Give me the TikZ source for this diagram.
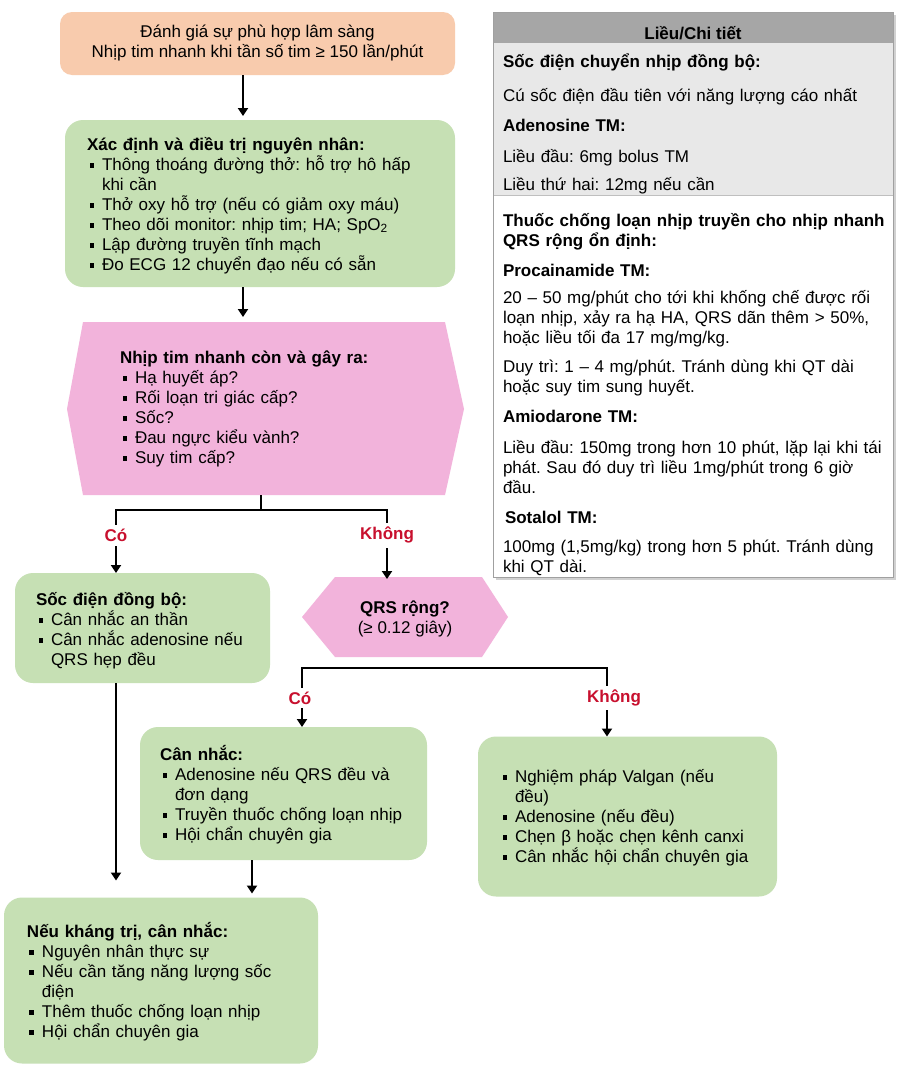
\documentclass[tikz,border=0pt]{standalone}
\usepackage{fontspec}
\setmainfont{Liberation Sans}
\usetikzlibrary{arrows.meta}

\definecolor{peach}{HTML}{F8CBAD}
\definecolor{leaf}{HTML}{C6E0B4}
\definecolor{rose}{HTML}{F2B3DB}
\definecolor{hdr}{HTML}{A6A6A6}
\definecolor{band}{HTML}{E8E8E8}
\definecolor{rim}{HTML}{A0A0A0}
\definecolor{yesno}{HTML}{C8102E}

% square bullet and list line with hanging indent
\newcommand\sqb{\rule[2.5pt]{4.5pt}{4.5pt}}
\newcommand\itm[1]{\noindent\hangindent=15pt\hangafter=1\makebox[15pt][l]{\hspace{2.5pt}\sqb}\strut#1\par}
\newcommand\ttl[1]{\noindent\strut\textbf{#1}\par}

\tikzset{
  x=1pt, y=-1pt,
  every node/.style={inner sep=0pt, outer sep=0pt},
  bodyfont/.style={font=\fontsize{17}{20}\selectfont\frenchspacing},
  box/.style={rectangle, rounded corners=18pt, fill=leaf, draw=none},
  txt/.style={bodyfont, anchor=base west, text width=#1,
    execute at begin node={\raggedright\parskip=0pt\lineskiplimit=-100pt\relax}},
  cell/.style={txt=400pt},
  lbl/.style={font=\fontsize{17}{20}\selectfont\bfseries, text=yesno},
  ln/.style={line width=2.2pt, black},
  arr/.style={ln, -{Triangle[length=8pt,width=10pt]}},
}

\begin{document}
\begin{tikzpicture}
\useasboundingbox (0,0) rectangle (898,1068);
\fill[white] (0,0) rectangle (898,1068);

% ---------------- flowchart boxes ----------------
\node[box, fill=peach, rounded corners=12pt, minimum width=395pt, minimum height=63pt,
      bodyfont, align=center] (top) at (257.5,43.5)
  {Đánh giá sự phù hợp lâm sàng\\Nhịp tim nhanh khi tần số tim ≥ 150 lần/phút};

\node[box, minimum width=390pt, minimum height=167pt] (cause) at (260,203.5) {};
\node[txt=360pt] (causeT) at (87,150)
  {\ttl{Xác định và điều trị nguyên nhân:}%
   \itm{Thông thoáng đường thở: hỗ trợ hô hấp\newline khi cần}%
   \itm{Thở oxy hỗ trợ (nếu có giảm oxy máu)}%
   \itm{Theo dõi monitor: nhịp tim; HA; SpO\textsubscript{2}}%
   \itm{Lập đường truyền tĩnh mạch}%
   \itm{Đo ECG 12 chuyển đạo nếu có sẵn}};

% unstable-signs decision hexagon
\fill[rose] (83,322) -- (445,322) -- (464,409) -- (445,495) -- (83,495) -- (67,409) -- cycle;
\node[minimum width=397pt, minimum height=173pt] (risk) at (265.5,408.5) {};
\node[txt=320pt] (riskT) at (120,363)
  {\ttl{Nhịp tim nhanh còn và gây ra:}%
   \itm{Hạ huyết áp?}%
   \itm{Rối loạn tri giác cấp?}%
   \itm{Sốc?}%
   \itm{Đau ngực kiểu vành?}%
   \itm{Suy tim cấp?}};

\node[box, minimum width=255pt, minimum height=110pt] (soc) at (142.5,628) {};
\node[txt=235pt] (socT) at (36,605)
  {\ttl{Sốc điện đồng bộ:}%
   \itm{Cân nhắc an thần}%
   \itm{Cân nhắc adenosine nếu\newline QRS hẹp đều}};

% QRS width decision hexagon
\fill[rose] (335,577) -- (482,577) -- (508,617) -- (482,657) -- (335,657) -- (302,617) -- cycle;
\node[minimum width=206pt, minimum height=80pt, bodyfont, align=center] (qrs) at (405,619)
  {\textbf{QRS rộng?}\\(≥ 0.12 giây)};

\node[box, minimum width=287pt, minimum height=133pt] (can) at (283.5,793.5) {};
\node[txt=270pt] (canT) at (160,760)
  {\ttl{Cân nhắc:}%
   \itm{Adenosine nếu QRS đều và\newline đơn dạng}%
   \itm{Truyền thuốc chống loạn nhịp}%
   \itm{Hội chẩn chuyên gia}};

\node[box, minimum width=299pt, minimum height=160pt] (khong) at (627.5,816.5) {};
\node[txt=270pt] (khongT) at (500,782)
  {\itm{Nghiệm pháp Valgan (nếu\newline đều)}%
   \itm{Adenosine (nếu đều)}%
   \itm{Chẹn β hoặc chẹn kênh canxi}%
   \itm{Cân nhắc hội chẩn chuyên gia}};

\node[box, minimum width=314pt, minimum height=166pt] (bot) at (161,980.5) {};
\node[txt=280pt] (botT) at (27,937)
  {\ttl{Nếu kháng trị, cân nhắc:}%
   \itm{Nguyên nhân thực sự}%
   \itm{Nếu cần tăng năng lượng sốc\newline điện}%
   \itm{Thêm thuốc chống loạn nhịp}%
   \itm{Hội chẩn chuyên gia}};

% ---------------- branch labels ----------------
\node[lbl] (yesA) at (116,535) {Có};
\node[lbl] (noA)  at (387,535) {Không};
\node[lbl] (yesB) at (300,698) {Có};
\node[lbl] (noB)  at (614,698) {Không};

% ---------------- connectors ----------------
\coordinate (c243) at (243,0);
\coordinate (c252) at (252,0);
\coordinate (j1) at (261,510);
\coordinate (j2) at (302,668);
\coordinate (j3) at (607,668);

\draw[arr] (top.south -| c243) -- ([yshift=4pt]cause.north -| c243);
\draw[arr] (cause.south -| c243) -- ([yshift=5pt]risk.north -| c243);

\draw[ln] (risk.south -| j1) -- (j1);
\draw[ln] ([yshift=4pt]yesA.north) |- (j1) -| ([yshift=4pt]noA.north);
\draw[arr] ([yshift=-5pt]yesA.south) -- (soc.north -| yesA);
\draw[arr] ([yshift=-5pt]noA.south) -- (qrs.north -| noA);

\draw[ln] ([yshift=4pt]yesB.north -| j2) -- (j2) -- (j3) -- ([yshift=4pt]noB.north -| j3);
\draw[arr] ([yshift=-4pt]yesB.south -| j2) -- (can.north -| j2);
\draw[arr] ([yshift=-4pt]noB.south -| j3) -- (khong.north -| j3);

\draw[arr] (soc.south -| yesA) -- ([yshift=17pt]bot.north -| yesA);
\draw[arr] (can.south -| c252) -- ([yshift=4pt]bot.north -| c252);

% ---------------- dosage table ----------------
\fill[black!18] (496,15) rectangle (896,580);
\fill[white] (493,12) rectangle (893,577);
\fill[band] (493,43) rectangle (893,195);
\fill[hdr] (493,12) rectangle (893,43);
\draw[black!25, line width=0.8pt] (493,195) -- (893,195);
\draw[rim, line width=0.8pt] (493,12) rectangle (893,577);

\node[font=\fontsize{17}{20}\selectfont\bfseries, anchor=base] (thead) at (693,39) {Liều/Chi tiết};
\node[cell] (t1) at (503,67) {\textbf{Sốc điện chuyển nhịp đồng bộ:}};
\node[cell] (t2) at (503,101) {Cú sốc điện đầu tiên với năng lượng cáo nhất};
\node[cell] (t3) at (503,131) {\textbf{Adenosine TM:}};
\node[cell] (t4) at (503,162) {Liều đầu: 6mg bolus TM};
\node[cell] (t5) at (503,190) {Liều thứ hai: 12mg nếu cần};
\node[cell] (t6) at (503,226) {\textbf{Thuốc chống loạn nhịp truyền cho nhịp nhanh\newline QRS rộng ổn định:}};
\node[cell] (t7) at (503,276) {\textbf{Procainamide TM:}};
\node[cell] (t8) at (503,303) {20 – 50 mg/phút cho tới khi khống chế được rối\newline loạn nhịp, xảy ra hạ HA, QRS dãn thêm > 50\%,\newline hoặc liều tối đa 17 mg/mg/kg.};
\node[cell] (t9) at (503,372) {Duy trì: 1 – 4 mg/phút. Tránh dùng khi QT dài\newline hoặc suy tim sung huyết.};
\node[cell] (t10) at (503,422) {\textbf{Amiodarone TM:}};
\node[cell] (t11) at (503,453) {Liều đầu: 150mg trong hơn 10 phút, lặp lại khi tái\newline phát. Sau đó duy trì liều 1mg/phút trong 6 giờ\newline đầu.};
\node[cell] (t12) at (505,523) {\textbf{Sotalol TM:}};
\node[cell] (t13) at (503,552) {100mg (1,5mg/kg) trong hơn 5 phút. Tránh dùng\newline khi QT dài.};
\end{tikzpicture}
\end{document}
